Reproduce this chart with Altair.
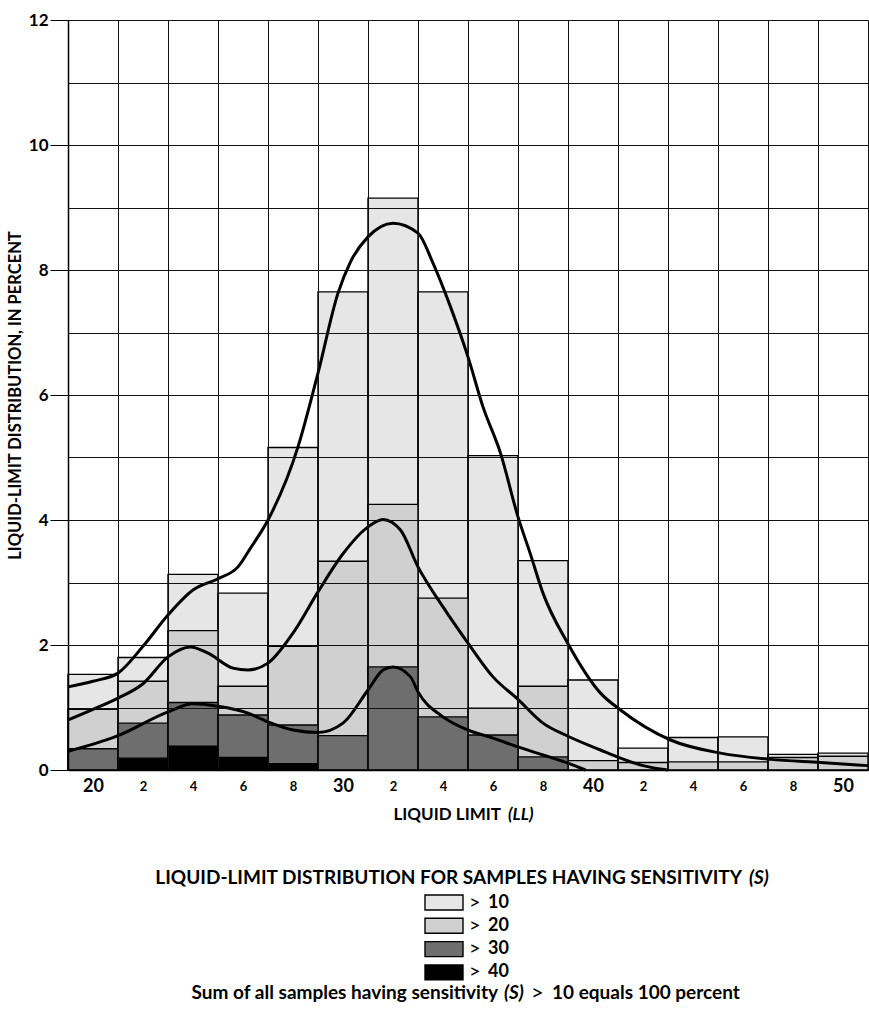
import altair as alt
import pandas as pd

# Liquid-limit classes, 2 units wide, centred on even values
bin_centers = [20, 22, 24, 26, 28, 30, 32, 34, 36, 38, 40, 42, 44, 46, 48, 50]

# Percent of all samples (S > 10 = 100 %) falling in each class, by sensitivity
pct_s10 = [1.53, 1.80, 3.13, 2.83, 5.16, 7.65, 9.15, 7.65, 5.03, 3.35, 1.44, 0.35, 0.52, 0.53, 0.25, 0.27]
pct_s20 = [0.97, 1.42, 2.23, 1.34, 1.98, 3.34, 4.25, 2.75, 0.99, 1.34, 0.15, 0.12, 0.13, 0.13, 0.20, 0.22]
pct_s30 = [0.34, 0.75, 1.08, 0.88, 0.72, 0.55, 1.65, 0.85, 0.56, 0.21, 0, 0, 0, 0, 0, 0]
pct_s40 = [0, 0.19, 0.38, 0.20, 0.10, 0, 0, 0, 0, 0, 0, 0, 0, 0, 0, 0]

# Smoothed distribution curves
curve_s10_x = [19.0, 20.0, 21.0, 22.0, 23.0, 24.0, 25.0, 25.8, 26.3, 27.0, 28.2, 29.0, 29.8, 30.3, 31.0,
               32.0, 33.0, 33.6, 34.3, 35.0, 35.6, 36.3, 37.0, 37.5, 38.0, 39.0, 40.3, 41.1, 43.1, 45.1,
               47.1, 49.1, 51.0]
curve_s10_y = [1.33, 1.42, 1.55, 1.98, 2.48, 2.88, 3.06, 3.25, 3.55, 4.00, 5.17, 6.35, 7.63, 8.13, 8.53,
               8.75, 8.59, 8.11, 7.41, 6.61, 5.81, 5.07, 4.05, 3.45, 2.83, 2.02, 1.23, 0.96, 0.48, 0.27,
               0.17, 0.12, 0.07]
curve_s20_x = [19.0, 20.0, 21.0, 22.0, 23.0, 23.9, 24.6, 25.6, 26.2, 27.0, 28.0, 29.0, 30.0, 31.0, 31.6,
               32.3, 33.0, 34.0, 35.0, 36.0, 37.0, 38.0, 39.0, 40.3, 41.1, 42.0, 43.0]
curve_s20_y = [0.80, 0.97, 1.15, 1.38, 1.81, 1.97, 1.87, 1.63, 1.60, 1.71, 2.19, 2.85, 3.46, 3.89, 4.01,
               3.84, 3.25, 2.61, 2.03, 1.49, 1.13, 0.75, 0.54, 0.32, 0.19, 0.07, 0.0]
curve_s30_x = [19.0, 21.0, 23.0, 24.0, 25.0, 26.2, 27.0, 28.0, 29.0, 30.0, 31.0, 31.6, 32.0, 32.7, 33.0,
               34.0, 35.0, 36.0, 37.0, 38.0, 39.0, 39.7]
curve_s30_y = [0.30, 0.55, 0.93, 1.06, 1.02, 0.91, 0.77, 0.64, 0.60, 0.75, 1.28, 1.60, 1.65, 1.49, 1.25,
               0.85, 0.64, 0.51, 0.37, 0.24, 0.11, 0.0]

levels = [">10", ">20", ">30", ">40"]
fills = ["#e6e6e6", "#d0d0d0", "#6e6e6e", "#000000"]

FONT = "Lato"
W, H = 800, 750

x_scale = alt.Scale(domain=[19, 51], nice=False, zero=False)
y_scale = alt.Scale(domain=[0, 12], nice=False)

x_axis = alt.Axis(
    values=list(range(19, 52)),
    grid=True,
    gridColor="#111111",
    gridWidth=1,
    gridOpacity={"condition": {"test": "datum.value % 2 === 1", "value": 1}, "value": 0},
    ticks=False,
    domainColor="black",
    domainWidth=1.5,
    labelExpr="datum.value % 2 === 1 ? '' : (datum.value % 10 === 0 ? '' + datum.value : '' + (datum.value % 10))",
    labelFontSize={"condition": {"test": "datum.value % 10 === 0", "value": 18}, "value": 13},
    labelFontWeight="bold",
    labelColor="black",
    labelFont=FONT,
    labelBaseline="middle",
    labelPadding=16,
    labelFlush=False,
    labelOverlap=False,
    zindex=1,
)
y_axis = alt.Axis(
    values=list(range(0, 13)),
    grid=True,
    gridColor="#111111",
    gridWidth=1,
    tickSize=18,
    tickColor="black",
    tickWidth=1,
    tickOpacity={"condition": {"test": "datum.value % 2 === 0", "value": 1}, "value": 0},
    domainColor="black",
    domainWidth=1.5,
    labelExpr="datum.value % 2 === 0 ? datum.label : ''",
    labelFontSize=17,
    labelFontWeight="bold",
    labelColor="black",
    labelFont=FONT,
    labelPadding=2,
    labelFlush=False,
    labelOverlap=False,
    title="LIQUID-LIMIT DISTRIBUTION, IN PERCENT",
    titleFont=FONT,
    titleFontSize=16.5,
    titleFontWeight="bold",
    titleColor="black",
    titleAngle=270,
    titleX=-53,
    titleY=H / 2,
    titleAlign="center",
    titleBaseline="middle",
    zindex=1,
)

# Stacked-over bars: each sensitivity class drawn from 0 up to its own percent
bar_layers = []
for level, fill, values in zip(levels, fills, [pct_s10, pct_s20, pct_s30, pct_s40]):
    df = pd.DataFrame({
        "lo": [c - 1 for c in bin_centers],
        "hi": [c + 1 for c in bin_centers],
        "pct": values,
        "level": level,
    })
    bar_layers.append(
        alt.Chart(df)
        .transform_filter("datum.pct > 0")
        .mark_rect(fill=fill, stroke="black", strokeWidth=1.4)
        .encode(
            x=alt.X("lo:Q", scale=x_scale, axis=x_axis, title=None),
            x2="hi:Q",
            y=alt.Y("pct:Q", scale=y_scale, axis=y_axis),
            y2=alt.datum(0),
        )
    )

curve_df = pd.concat([
    pd.DataFrame({"ll": curve_s10_x, "pct": curve_s10_y, "curve": ">10"}),
    pd.DataFrame({"ll": curve_s20_x, "pct": curve_s20_y, "curve": ">20"}),
    pd.DataFrame({"ll": curve_s30_x, "pct": curve_s30_y, "curve": ">30"}),
])
curves = (
    alt.Chart(curve_df)
    .mark_line(color="black", strokeWidth=3, interpolate="monotone")
    .encode(
        x=alt.X("ll:Q", scale=x_scale, axis=x_axis, title=None),
        y=alt.Y("pct:Q", scale=y_scale, axis=y_axis),
        detail="curve:N",
    )
)

# Text placed in pixel space below the plot
def label(text, x, y, size, align="left", style="normal", weight="bold"):
    return (
        alt.Chart(pd.DataFrame({"t": [text]}))
        .mark_text(font=FONT, fontSize=size, fontWeight=weight, fontStyle=style, align=align,
                   baseline="middle", color="black")
        .encode(text="t:N", x=alt.value(x), y=alt.value(y))
    )

texts = [
    label("LIQUID LIMIT", 433, 795, 17, align="right"),
    label("(LL)", 440, 795, 17, style="italic"),
    label("LIQUID-LIMIT  DISTRIBUTION  FOR  SAMPLES  HAVING  SENSITIVITY", 674, 858, 19, align="right"),
    label("(S)", 681, 858, 19, style="italic"),
    label("Sum of all samples having sensitivity", 430, 973, 19, align="right"),
    label("(S)", 436, 973, 19, style="italic"),
    label(">", 463, 973, 22, weight="normal"),
    label("10 equals 100 percent", 484, 973, 19),
]

# Legend swatches and labels
legend_df = pd.DataFrame({
    "level": levels,
    "num": [l[1:] for l in levels],
    "fill": fills,
    "row": [0, 1, 2, 3],
})
legend_df["yc"] = 882.5 + 23.3 * legend_df["row"]
legend_df["y0"] = legend_df["yc"] - 7.5
legend_df["y1"] = legend_df["yc"] + 7.5
legend_rects = (
    alt.Chart(legend_df)
    .mark_rect(stroke="black", strokeWidth=1.4)
    .encode(
        x=alt.value(357), x2=alt.value(395),
        y=alt.Y("y0:Q", scale=None), y2="y1:Q",
        fill=alt.Fill("fill:N", scale=None),
    )
)
legend_gt = (
    alt.Chart(legend_df)
    .mark_text(font=FONT, fontSize=20, fontWeight="normal", align="left", baseline="middle", color="black")
    .encode(x=alt.value(401), y=alt.Y("yc:Q", scale=None), text=alt.value(">"))
)
legend_num = (
    alt.Chart(legend_df)
    .mark_text(font=FONT, fontSize=18, fontWeight="bold", align="left", baseline="middle", color="black")
    .encode(x=alt.value(420), y=alt.Y("yc:Q", scale=None), text="num:N")
)

chart = (
    alt.layer(*bar_layers, curves, *texts, legend_rects, legend_gt, legend_num)
    .properties(
        width=W,
        height=H,
        autosize=alt.AutoSizeParams(type="none"),
        padding={"left": 68, "top": 20, "right": 1, "bottom": 242},
        background="white",
    )
    .configure_view(stroke=None)
    .configure(font=FONT)
)

chart.save("out.html", embed_options={"renderer": "svg", "actions": False})
